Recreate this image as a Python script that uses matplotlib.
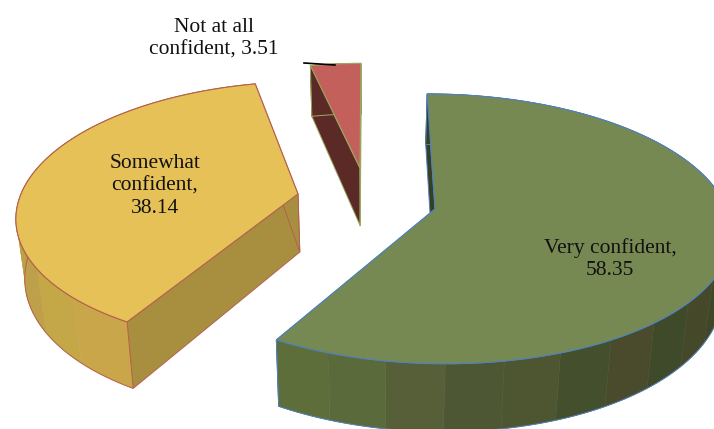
import numpy as np
import matplotlib
matplotlib.use("Agg")
import matplotlib.pyplot as plt
from matplotlib.patches import Polygon

categories = ["Very confident", "Somewhat\nconfident", "Not at all\nconfident"]
values = [58.35, 38.14, 3.51]
separators = [",\n", ",\n", ", "]

# geometry of each exploded slice: centre x,y, radii, shear, depth
centers = [(435, 209), (298, 194), (360, 168)]
radii_x = [292, 277, 264]
radii_y = [132, 129, 120]
shears = [9, -12, -1]
depths = [58, 58, 58]
PERSP = 0.147
VANISH_X = 370
CONVERGE = 0.025

top_colors = ["#778952", "#E5C158", "#C4605C"]
edge_colors = ["#4F81BD", "#B5604E", "#9BA860"]
radial_colors = ["#363F22", "#A88F40", "#5C2A26"]
wall_bands = [
    ["#363F22"] * 11 + ["#3F4726", "#45492A", "#3F4A2B", "#4A4A2C", "#44502D", "#4D5531", "#4E5733", "#565F37", "#5A6A3A", "#5E6E3A"],
    ["#C9A64A", "#C4A848", "#BFA04A", "#B9A348", "#C09A45", "#BBA24A", "#C3A34E", "#CAA852", "#C9AB50", "#CDB04F"],
    ["#5C2A26"],
]
label_xy = [(610, 259), (155, 186), (214, 39)]

plt.rcParams["font.family"] = ["Liberation Serif", "DejaVu Serif"]
fig = plt.figure(figsize=(7.14, 4.29), dpi=100)
ax = fig.add_axes([0, 0, 1, 1])
ax.set_xlim(0, 714)
ax.set_ylim(429, 0)
ax.axis("off")


def top_point(i, th):
    u, v = np.sin(th), -np.cos(th)
    s = 1 / (1 - PERSP * v)
    return (centers[i][0] + (radii_x[i] * u + shears[i] * v) * s,
            centers[i][1] + radii_y[i] * v * s), s


def low_point(i, th):
    (x, y), s = top_point(i, th)
    return (x + (VANISH_X - x) * CONVERGE, y + depths[i] * s)


def tip_low(i):
    x, y = centers[i]
    return (x + (VANISH_X - x) * CONVERGE, y + depths[i])


bounds = np.concatenate([[0], np.cumsum(values)]) / np.sum(values) * 2 * np.pi

for i, val in enumerate(values):
    a0, a1 = bounds[i], bounds[i + 1]
    tip = centers[i]
    edge = edge_colors[i]
    # radial walls
    for a in (a0, a1):
        quad = [tip, top_point(i, a)[0], low_point(i, a), tip_low(i)]
        ax.add_patch(Polygon(quad, closed=True, fc=radial_colors[i], ec=edge, lw=0.7, zorder=2))
    # curved outer wall, in colour bands
    bands = wall_bands[i]
    edges = np.linspace(a0, a1, len(bands) + 1)
    for j, col in enumerate(bands):
        th = np.linspace(edges[j], edges[j + 1], 12)
        pts = [top_point(i, t)[0] for t in th] + [low_point(i, t) for t in th[::-1]]
        ax.add_patch(Polygon(pts, closed=True, fc=col, ec=col, lw=0.4, zorder=3))
    th = np.linspace(a0, a1, 200)
    pts = [top_point(i, t)[0] for t in th] + [low_point(i, t) for t in th[::-1]]
    ax.add_patch(Polygon(pts, closed=True, fc="none", ec=edge, lw=0.7, zorder=3))
    # top surface
    pts = [tip] + [top_point(i, t)[0] for t in th]
    ax.add_patch(Polygon(pts, closed=True, fc=top_colors[i], ec=edge, lw=0.8, zorder=4))
    ax.text(*label_xy[i], f"{categories[i]}{separators[i]}{val}", ha="center", va="center",
            fontsize=15.5, color="#111111", linespacing=1.22, zorder=6)

ax.plot([304, 335], [63, 65], color="black", lw=1.2, zorder=5)

fig.savefig("out.png", dpi=100)
